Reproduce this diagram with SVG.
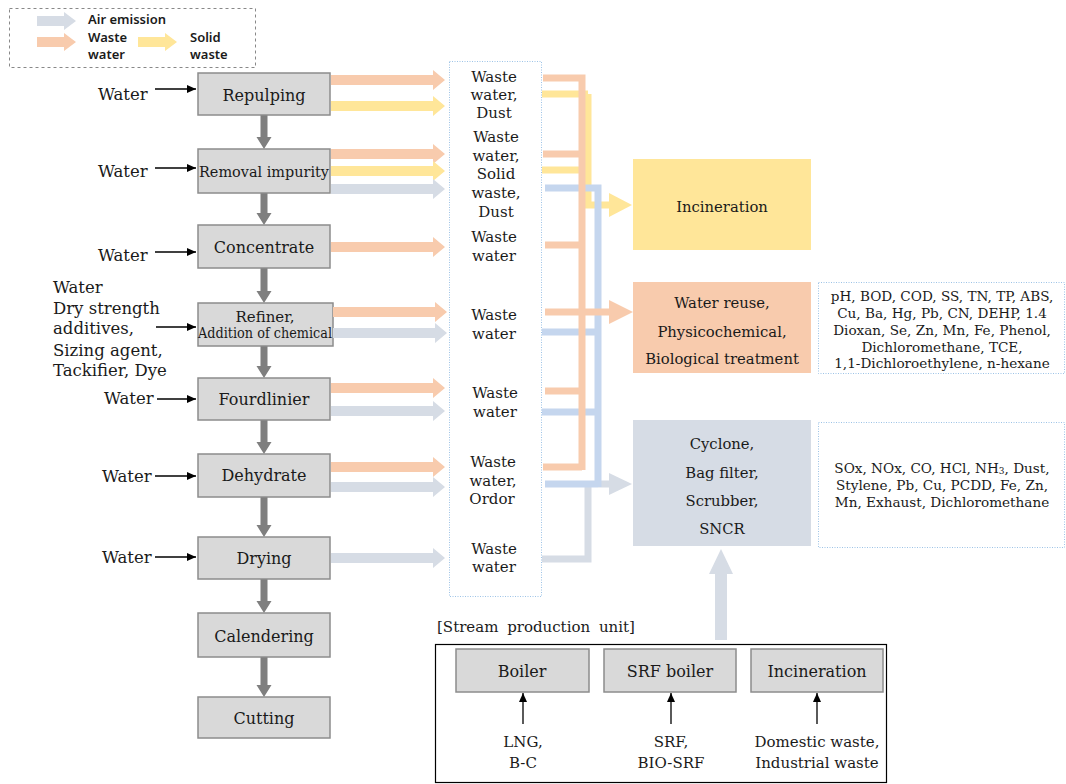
<svg xmlns="http://www.w3.org/2000/svg" xmlns:xlink="http://www.w3.org/1999/xlink" width="1066" height="784" viewBox="0 0 1066 784">
<style>
.t{font-family:"DejaVu Serif","Liberation Serif",serif;font-size:15px;fill:#1a1a1a;dominant-baseline:central}
.m{text-anchor:middle}
.b16{font-size:16px}
.l16{font-size:16.5px}
.r15{font-size:14.8px}
.p13{font-size:13.6px}
.lg{font-family:"Noto Sans","Open Sans",sans-serif;font-weight:600;font-size:13px;fill:#1a1a1a;dominant-baseline:central}
.box{fill:#D9D9D9;stroke:#8C8C8C;stroke-width:1.5}
.dot{fill:#fff;stroke:#9DC3E6;stroke-width:1;stroke-dasharray:1,1.5}
.or{fill:#F8CBAD}.ye{fill:#FFE699}.gy{fill:#D6DCE5}
.dn{fill:#7F7F7F}
.blk{stroke:#000;stroke-width:1.3;fill:none;marker-end:url(#ah)}
.lo{stroke:#F8CBAD;stroke-width:7;fill:none}
.ly{stroke:#FFE699;stroke-width:7;fill:none}
.lb{stroke:#C5D6EE;stroke-width:7;fill:none}
.lgy{stroke:#D6DCE5;stroke-width:7;fill:none}
</style>
<defs>
<marker id="ah" markerUnits="userSpaceOnUse" markerWidth="10" markerHeight="10" refX="9" refY="5" orient="auto"><path d="M0,1 L9,5 L0,9 Z" fill="#000"/></marker>
<path id="ha" d="M0,-5 H102 V-10 L114,0 L102,10 V5 H0 Z"/>
<path id="hl" d="M0,-5 H27 V-9 L39,0 L27,9 V5 H0 Z"/>
</defs>
<rect width="1066" height="784" fill="#fff"/>

<g id="legend">
<rect x="9.5" y="8.5" width="246" height="59" fill="none" stroke="#888" stroke-dasharray="3,3"/>
<use xlink:href="#hl" x="37" y="21" class="gy"/>
<use xlink:href="#hl" x="37" y="42" class="or"/>
<use xlink:href="#hl" x="138" y="42" class="ye"/>
<text class="lg" x="88" y="18.5">Air emission</text>
<text class="lg" x="88" y="37">Waste</text>
<text class="lg" x="88" y="54">water</text>
<text class="lg" x="190" y="37">Solid</text>
<text class="lg" x="190" y="54">waste</text>
</g>

<g id="process-arrows">
<path class="dn" d="M260.5,115 V137 H256.5 L264,149 L271.5,137 H267.5 V115 Z"/>
<path class="dn" d="M260.5,193 V213 H256.5 L264,225 L271.5,213 H267.5 V193 Z"/>
<path class="dn" d="M260.5,268 V291 H256.5 L264,303 L271.5,291 H267.5 V268 Z"/>
<path class="dn" d="M260.5,346 V366 H256.5 L264,378 L271.5,366 H267.5 V346 Z"/>
<path class="dn" d="M260.5,420 V442 H256.5 L264,454 L271.5,442 H267.5 V420 Z"/>
<path class="dn" d="M260.5,497 V525 H256.5 L264,537 L271.5,525 H267.5 V497 Z"/>
<path class="dn" d="M260.5,579 V601 H256.5 L264,613 L271.5,601 H267.5 V579 Z"/>
<path class="dn" d="M260.5,657 V685 H256.5 L264,697 L271.5,685 H267.5 V657 Z"/>
</g>

<g id="inputs">
<text class="t l16" x="98" y="94">Water</text>
<line class="blk" x1="155" y1="89" x2="196" y2="89"/>
<text class="t l16" x="98" y="171">Water</text>
<line class="blk" x1="155" y1="168" x2="196" y2="168"/>
<text class="t l16" x="98" y="255">Water</text>
<line class="blk" x1="155" y1="252" x2="196" y2="252"/>
<text class="t l16" x="53" y="287">Water</text>
<text class="t l16" x="53" y="308">Dry strength</text>
<text class="t l16" x="53" y="328">additives,</text>
<text class="t l16" x="53" y="350">Sizing agent,</text>
<text class="t l16" x="53" y="370">Tackifier, Dye</text>
<line class="blk" x1="156" y1="327" x2="196" y2="327"/>
<text class="t l16" x="104" y="398">Water</text>
<line class="blk" x1="157" y1="399" x2="196" y2="399"/>
<text class="t l16" x="102" y="476">Water</text>
<line class="blk" x1="155" y1="476" x2="196" y2="476"/>
<text class="t l16" x="102" y="557">Water</text>
<line class="blk" x1="155" y1="557" x2="196" y2="557"/>
</g>

<g id="n-repulping"><rect class="box" x="198" y="73" width="132" height="42"/><text class="t m b16" x="264" y="95">Repulping</text></g>
<g id="n-removal"><rect class="box" x="198" y="149" width="132" height="44"/><text class="t m" x="264" y="172" textLength="130" lengthAdjust="spacingAndGlyphs">Removal impurity</text></g>
<g id="n-concentrate"><rect class="box" x="198" y="225" width="132" height="43"/><text class="t m b16" x="264" y="247">Concentrate</text></g>
<g id="n-refiner"><rect class="box" x="198" y="303" width="135" height="43"/><text class="t m" x="265" y="317">Refiner,</text><text class="t m" x="265" y="333" textLength="134" lengthAdjust="spacingAndGlyphs" font-size="13.5">Addition of chemical</text></g>
<g id="n-fourdlinier"><rect class="box" x="198" y="378" width="132" height="42"/><text class="t m b16" x="264" y="399">Fourdlinier</text></g>
<g id="n-dehydrate"><rect class="box" x="198" y="454" width="132" height="43"/><text class="t m b16" x="264" y="475">Dehydrate</text></g>
<g id="n-drying"><rect class="box" x="198" y="537" width="132" height="42"/><text class="t m b16" x="264" y="558">Drying</text></g>
<g id="n-calendering"><rect class="box" x="198" y="613" width="132" height="44"/><text class="t m b16" x="264" y="636">Calendering</text></g>
<g id="n-cutting"><rect class="box" x="198" y="697" width="132" height="41"/><text class="t m b16" x="264" y="718">Cutting</text></g>

<g id="n-emissions">
<rect class="dot" x="449.5" y="61.5" width="92" height="535"/>
<text class="t m" x="494" y="77">Waste</text>
<text class="t m" x="494" y="95">water,</text>
<text class="t m" x="494" y="113">Dust</text>
<text class="t m" x="496" y="137">Waste</text>
<text class="t m" x="496" y="156">water,</text>
<text class="t m" x="496" y="174">Solid</text>
<text class="t m" x="496" y="193">waste,</text>
<text class="t m" x="496" y="212">Dust</text>
<text class="t m" x="494" y="237">Waste</text>
<text class="t m" x="494" y="256">water</text>
<text class="t m" x="494" y="315">Waste</text>
<text class="t m" x="494" y="334">water</text>
<text class="t m" x="495" y="393">Waste</text>
<text class="t m" x="495" y="412">water</text>
<text class="t m" x="493" y="462">Waste</text>
<text class="t m" x="493" y="481">water,</text>
<text class="t m" x="492" y="499">Ordor</text>
<text class="t m" x="494" y="549">Waste</text>
<text class="t m" x="494" y="567">water</text>
</g>

<g id="connectors">
<use xlink:href="#ha" x="331" y="80" class="or"/>
<use xlink:href="#ha" x="331" y="106" class="ye"/>
<use xlink:href="#ha" x="331" y="154" class="or"/>
<use xlink:href="#ha" x="331" y="171" class="ye"/>
<use xlink:href="#ha" x="331" y="189" class="gy"/>
<use xlink:href="#ha" x="331" y="247" class="or"/>
<use xlink:href="#ha" x="333" y="312" class="or"/>
<use xlink:href="#ha" x="333" y="333" class="gy"/>
<use xlink:href="#ha" x="331" y="388" class="or"/>
<use xlink:href="#ha" x="331" y="411" class="gy"/>
<use xlink:href="#ha" x="331" y="467" class="or"/>
<use xlink:href="#ha" x="331" y="487" class="gy"/>
<use xlink:href="#ha" x="331" y="558" class="gy"/>

<path class="ly" d="M542,94 H588 M542,170 H588 M588,94 V205 H611"/>
<path class="ye" d="M609,193 L632,205 L609,217 Z"/>
<path class="lgy" d="M542,559 H588 V484 M598,484 H611"/>
<path class="gy" d="M609,473 L632,484 L609,495 Z"/>
<path class="lb" d="M545,188 H598 V487 M542,332 H598 M542,412 H598 M545,484 H598"/>
<path class="lo" d="M543,78 H582 V470 M543,154 H582 M545,245 H582 M545,391 H582 M543,467 H582 M545,312 H611"/>
<path class="or" d="M609,300 L633,312 L609,324 Z"/>
<path class="gy" d="M715,640 V574 H709 L721,549 L733,574 H727 V640 Z"/>
</g>

<g id="n-incineration"><rect x="633" y="159" width="178" height="91" fill="#FFE699"/><text class="t m r15" x="722" y="206">Incineration</text></g>
<g id="n-water-treatment"><rect x="633" y="282" width="178" height="91" fill="#F8CBAD"/><text class="t m r15" x="722" y="302">Water reuse,</text><text class="t m r15" x="722" y="331">Physicochemical,</text><text class="t m r15" x="722" y="358">Biological treatment</text></g>
<g id="n-air-treatment"><rect x="633" y="420" width="178" height="126" fill="#D6DCE5"/><text class="t m r15" x="722" y="443">Cyclone,</text><text class="t m r15" x="722" y="472">Bag filter,</text><text class="t m r15" x="722" y="500">Scrubber,</text><text class="t m r15" x="722" y="528">SNCR</text></g>

<g id="n-water-pollutants"><rect class="dot" x="818.5" y="282.5" width="246" height="91"/>
<text class="t m p13" x="942" y="296">pH, BOD, COD, SS, TN, TP, ABS,</text>
<text class="t m p13" x="942" y="313">Cu, Ba, Hg, Pb, CN, DEHP, 1.4</text>
<text class="t m p13" x="942" y="330">Dioxan, Se, Zn, Mn, Fe, Phenol,</text>
<text class="t m p13" x="942" y="347">Dichloromethane, TCE,</text>
<text class="t m p13" x="942" y="363">1,1-Dichloroethylene, n-hexane</text>
</g>
<g id="n-air-pollutants"><rect class="dot" x="818.5" y="422.5" width="246" height="125"/>
<text class="t m p13" x="942" y="468">SOx, NOx, CO, HCl, NH<tspan font-size="9" dy="3">3</tspan><tspan dy="-3">, Dust,</tspan></text>
<text class="t m p13" x="942" y="485">Stylene, Pb, Cu, PCDD, Fe, Zn,</text>
<text class="t m p13" x="942" y="502">Mn, Exhaust, Dichloromethane</text>
</g>

<g id="n-stream-unit">
<text class="t" x="437" y="627" style="word-spacing:4px">[Stream production unit]</text>
<rect x="435.5" y="644.5" width="451" height="138" fill="none" stroke="#000" stroke-width="1.2"/>
<rect class="box" x="456" y="649" width="133" height="43"/><text class="t m b16" x="522" y="671">Boiler</text>
<rect class="box" x="604" y="649" width="132" height="43"/><text class="t m b16" x="670" y="671">SRF boiler</text>
<rect class="box" x="751" y="649" width="132" height="43"/><text class="t m b16" x="817" y="671">Incineration</text>
<line class="blk" x1="523" y1="724" x2="523" y2="693"/>
<line class="blk" x1="671" y1="724" x2="671" y2="693"/>
<line class="blk" x1="817" y1="724" x2="817" y2="693"/>
<text class="t m" x="523" y="742" font-size="15.5">LNG,</text>
<text class="t m" x="523" y="763" font-size="15.5">B-C</text>
<text class="t m" x="671" y="742" font-size="15.5">SRF,</text>
<text class="t m" x="671" y="763" font-size="15.5">BIO-SRF</text>
<text class="t m" x="817" y="742" font-size="15.5">Domestic waste,</text>
<text class="t m" x="817" y="763" font-size="15.5">Industrial waste</text>
</g>
</svg>
